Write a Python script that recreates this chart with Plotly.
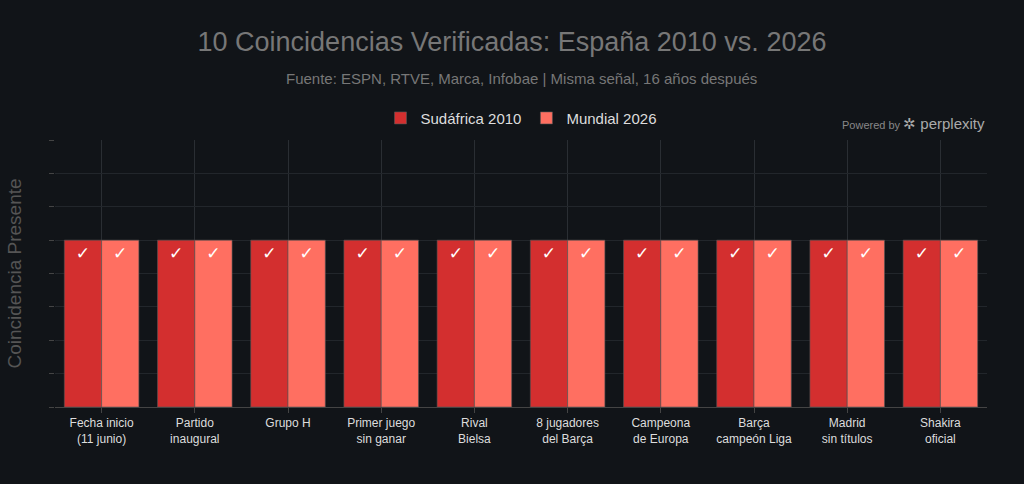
import plotly.graph_objects as go

categories = [
    "Fecha inicio<br>(11 junio)", "Partido<br>inaugural", "Grupo H",
    "Primer juego<br>sin ganar", "Rival<br>Bielsa", "8 jugadores<br>del Barça",
    "Campeona<br>de Europa", "Barça<br>campeón Liga", "Madrid<br>sin títulos",
    "Shakira<br>oficial",
]
series_2010 = [1, 1, 1, 1, 1, 1, 1, 1, 1, 1]
series_2026 = [1, 1, 1, 1, 1, 1, 1, 1, 1, 1]
labels = ["✓"] * 10

BG = "#111418"
FONT = "Liberation Sans, Arial, sans-serif"

fig = go.Figure()
fig.add_trace(go.Bar(
    x=categories, y=series_2010, name="Sudáfrica 2010",
    marker=dict(color="#D32F2F", line=dict(color="#555555", width=0.6)),
    text=labels, textposition="inside", insidetextanchor="end",
    textfont=dict(color="white", size=17, family="DejaVu Sans"), textangle=0,
    hoverinfo="skip",
))
fig.add_trace(go.Bar(
    x=categories, y=series_2026, name="Mundial 2026",
    marker=dict(color="#FF6F61", line=dict(color="#555555", width=0.6)),
    text=labels, textposition="inside", insidetextanchor="end",
    textfont=dict(color="white", size=17, family="DejaVu Sans"), textangle=0,
    hoverinfo="skip",
))

fig.update_layout(
    width=1024, height=484,
    paper_bgcolor=BG, plot_bgcolor=BG,
    font=dict(family=FONT, color="#cccccc"),
    barmode="group", bargap=0.2, bargroupgap=0,
    margin=dict(l=55, r=37, t=140, b=77),
    title=dict(
        text="10 Coincidencias Verificadas: España 2010 vs. 2026",
        x=0.5, xanchor="center", y=1 - 42 / 484, yanchor="middle",
        font=dict(size=27, color="#777777", family=FONT),
    ),
    legend=dict(
        orientation="h", x=0.5, xanchor="center", y=1.02, yanchor="bottom",
        font=dict(size=15, color="#dddddd"), bgcolor="rgba(0,0,0,0)",
        itemwidth=30,
    ),
    xaxis=dict(
        showgrid=True, gridcolor="#2a2e33", gridwidth=1,
        showline=True, linecolor="#444444",
        ticks="outside", tickcolor="#444444", ticklen=5,
        tickfont=dict(size=12, color="#dddddd"),
    ),
    yaxis=dict(
        range=[0, 1.6], dtick=0.2, showticklabels=False,
        showgrid=True, gridcolor="#22262b", gridwidth=1,
        zeroline=False,
        ticks="outside", tickcolor="#444444", ticklen=5,
        title=dict(text="Coincidencia Presente", font=dict(size=19, color="#555555"), standoff=22),
    ),
    annotations=[
        dict(
            text="Fuente: ESPN, RTVE, Marca, Infobae | Misma señal, 16 años después",
            x=0.5, xref="paper", xanchor="center",
            y=(407 - 78) / 267, yref="paper", yanchor="middle",
            showarrow=False, font=dict(size=15, color="#777777"),
        ),
        dict(
            text="Powered by <span style='font-size:15px;color:#aaaaaa'>✲ perplexity</span>",
            x=1.0, xref="paper", xanchor="right", y=(407 - 123) / 267, yref="paper", yanchor="middle",
            showarrow=False, font=dict(size=11, color="#888888"),
        ),
    ],
    showlegend=True,
)

fig.write_html("out.html")
